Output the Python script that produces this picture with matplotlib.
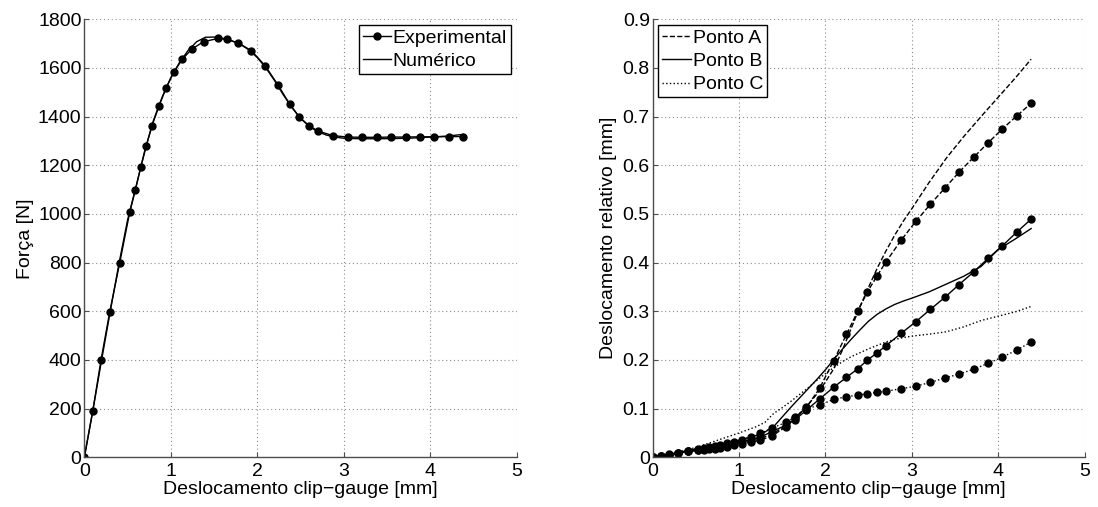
import matplotlib
matplotlib.use("Agg")
import matplotlib.pyplot as plt
from matplotlib.lines import Line2D

plt.rcParams['font.family'] = ['Liberation Sans', 'DejaVu Sans']
plt.rcParams['font.size'] = 14

# Clip-gauge displacement at each experimental reading [mm]
clip_exp = [0, 0.097, 0.193, 0.293, 0.409, 0.525, 0.590, 0.652, 0.717, 0.783,
            0.864, 0.945, 1.034, 1.133, 1.245, 1.380, 1.546, 1.646, 1.780, 1.931,
            2.093, 2.243, 2.375, 2.486, 2.598, 2.698, 2.875, 3.045, 3.214, 3.384,
            3.546, 3.716, 3.881, 4.047, 4.213, 4.378]

# Experimental force [N]
force_exp = [0, 189, 400, 596, 799, 1007, 1099, 1191, 1280, 1363,
             1444, 1517, 1582, 1636, 1678, 1708, 1721, 1717, 1703, 1671,
             1608, 1528, 1451, 1398, 1363, 1341, 1322, 1316, 1315, 1315,
             1316, 1316, 1317, 1317, 1318, 1318]

# Numerical model: clip-gauge displacement [mm] and force [N]
clip_num = [0, 0.1, 0.2, 0.3, 0.4, 0.5, 0.6, 0.7, 0.8, 0.9, 1.0, 1.1, 1.2, 1.3,
            1.4, 1.5, 1.6, 1.7, 1.8, 1.9, 2.0, 2.1, 2.2, 2.3, 2.4, 2.5, 2.6, 2.7,
            2.8, 2.9, 3.0, 3.2, 3.4, 3.6, 3.8, 4.0, 4.2, 4.38]
force_num = [0, 195, 400, 600, 795, 975, 1115, 1262, 1385, 1480, 1560, 1622, 1672, 1708,
             1726, 1727, 1722, 1712, 1698, 1675, 1643, 1600, 1548, 1490, 1438, 1393, 1360, 1338,
             1324, 1316, 1311, 1309, 1309, 1310, 1312, 1316, 1320, 1327]

# Relative displacement at points A, B, C (experimental) [mm]
rel_A_exp = [0, 0.002, 0.005, 0.008, 0.012, 0.014, 0.015, 0.017, 0.018, 0.020,
             0.022, 0.025, 0.028, 0.031, 0.035, 0.044, 0.063, 0.080, 0.103, 0.1415,
             0.198, 0.2525, 0.301, 0.340, 0.373, 0.401, 0.446, 0.4846, 0.520, 0.5536,
             0.586, 0.6166, 0.646, 0.6747, 0.7014, 0.727]
rel_B_exp = [0, 0.002, 0.005, 0.008, 0.012, 0.015, 0.017, 0.019, 0.021, 0.023,
             0.026, 0.029, 0.033, 0.036, 0.041, 0.053, 0.066, 0.077, 0.097, 0.1197,
             0.1437, 0.1643, 0.182, 0.1998, 0.2148, 0.229, 0.2546, 0.2785, 0.304, 0.329,
             0.355, 0.381, 0.4086, 0.4345, 0.4626, 0.489]
rel_C_exp = [0, 0.003, 0.006, 0.009, 0.013, 0.017, 0.019, 0.021, 0.023, 0.026,
             0.029, 0.032, 0.036, 0.042, 0.049, 0.060, 0.072, 0.083, 0.100, 0.107,
             0.119, 0.1245, 0.128, 0.1306, 0.1335, 0.1355, 0.141, 0.146, 0.154, 0.163,
             0.171, 0.181, 0.193, 0.206, 0.2203, 0.2367]

# Numerical relative displacement at points A, B, C [mm]
clip_rel_num = [0, 0.5, 1.0, 1.2, 1.3, 1.4, 1.5, 1.6, 1.7, 1.8, 1.9, 2.0, 2.1, 2.2,
                2.3, 2.4, 2.5, 2.6, 2.7, 2.8, 2.9, 3.0, 3.2, 3.4, 3.6, 3.8, 4.0, 4.2, 4.38]
rel_A_num = [0, 0.015, 0.030, 0.038, 0.042, 0.050, 0.060, 0.074, 0.090, 0.108, 0.130, 0.155,
             0.183, 0.222, 0.266, 0.310, 0.350, 0.389, 0.424, 0.456, 0.485, 0.511, 0.565,
             0.615, 0.659, 0.700, 0.740, 0.780, 0.818]
rel_B_num = [0, 0.017, 0.035, 0.045, 0.052, 0.063, 0.083, 0.103, 0.122, 0.141, 0.160, 0.180,
             0.202, 0.223, 0.243, 0.262, 0.280, 0.294, 0.305, 0.314, 0.321, 0.327, 0.340,
             0.356, 0.372, 0.392, 0.427, 0.449, 0.470]
rel_C_num = [0, 0.020, 0.050, 0.063, 0.072, 0.090, 0.102, 0.115, 0.129, 0.143, 0.158, 0.172,
             0.185, 0.197, 0.207, 0.215, 0.223, 0.230, 0.237, 0.242, 0.246, 0.249, 0.253,
             0.258, 0.268, 0.281, 0.290, 0.299, 0.310]

xlabel = "Deslocamento clip\u2212gauge [mm]"

fig = plt.figure(figsize=(10.98, 5.07), dpi=100)
ax1 = fig.add_axes([0.0768, 0.098, 0.3938, 0.864])
ax2 = fig.add_axes([0.5944, 0.098, 0.3935, 0.864])

lw = 1.0
ms = 5.0


def style(ax):
    ax.grid(True, linestyle=(0, (1, 2.5)), color='0.55', linewidth=0.8)
    for side in ('top', 'right'):
        ax.spines[side].set_visible(False)
    for side in ('left', 'bottom'):
        ax.spines[side].set_color('0.3')
        ax.spines[side].set_linewidth(1.0)
    ax.tick_params(direction='in', length=3.5, width=0.8, color='0.3',
                   top=False, right=False, labelsize=14)
    ax.tick_params(axis='x', pad=4)
    ax.tick_params(axis='y', pad=2)
    ax.set_axisbelow(True)


legend_kw = dict(handlelength=1.45, handletextpad=0.1, borderpad=0.2,
                 labelspacing=0.3, borderaxespad=0.3, fancybox=False,
                 framealpha=1, edgecolor='k', fontsize=14)

# Force vs clip-gauge displacement
ax1.plot(clip_exp, force_exp, '-', color='k', linewidth=lw, marker='o',
         markersize=ms, label='Experimental')
ax1.plot(clip_num, force_num, '-', color='k', linewidth=lw, label='Numérico')
ax1.set_xlim(0, 5)
ax1.set_ylim(0, 1800)
ax1.set_xticks(range(0, 6))
ax1.set_yticks(range(0, 1801, 200))
ax1.set_xlabel(xlabel, labelpad=1)
ax1.set_ylabel("Força [N]", labelpad=3)
style(ax1)
leg1 = ax1.legend(loc='upper right', **legend_kw)
leg1.get_frame().set_linewidth(1.0)

# Relative displacement at points A, B, C
ax2.plot(clip_exp, rel_A_exp, '--', color='k', linewidth=lw, marker='o', markersize=ms)
ax2.plot(clip_exp, rel_B_exp, '-', color='k', linewidth=lw, marker='o', markersize=ms)
ax2.plot(clip_exp, rel_C_exp, ':', color='k', linewidth=lw, marker='o', markersize=ms)
ax2.plot(clip_rel_num, rel_A_num, '--', color='k', linewidth=lw)
ax2.plot(clip_rel_num, rel_B_num, '-', color='k', linewidth=lw)
ax2.plot(clip_rel_num, rel_C_num, ':', color='k', linewidth=lw)
ax2.set_xlim(0, 5)
ax2.set_ylim(0, 0.9)
ax2.set_xticks(range(0, 6))
ax2.set_yticks([i / 10 for i in range(10)])
ax2.set_yticklabels(['0'] + [f"{i / 10:.1f}" for i in range(1, 10)])
ax2.set_xlabel(xlabel, labelpad=1)
ax2.set_ylabel("Deslocamento relativo [mm]", labelpad=4)
style(ax2)
handles = [Line2D([], [], color='k', linestyle='--', linewidth=lw),
           Line2D([], [], color='k', linestyle='-', linewidth=lw),
           Line2D([], [], color='k', linestyle=':', linewidth=lw)]
leg2 = ax2.legend(handles, ['Ponto A', 'Ponto B', 'Ponto C'], loc='upper left',
                  **legend_kw)
leg2.get_frame().set_linewidth(1.0)

fig.savefig("out.png", dpi=100)
